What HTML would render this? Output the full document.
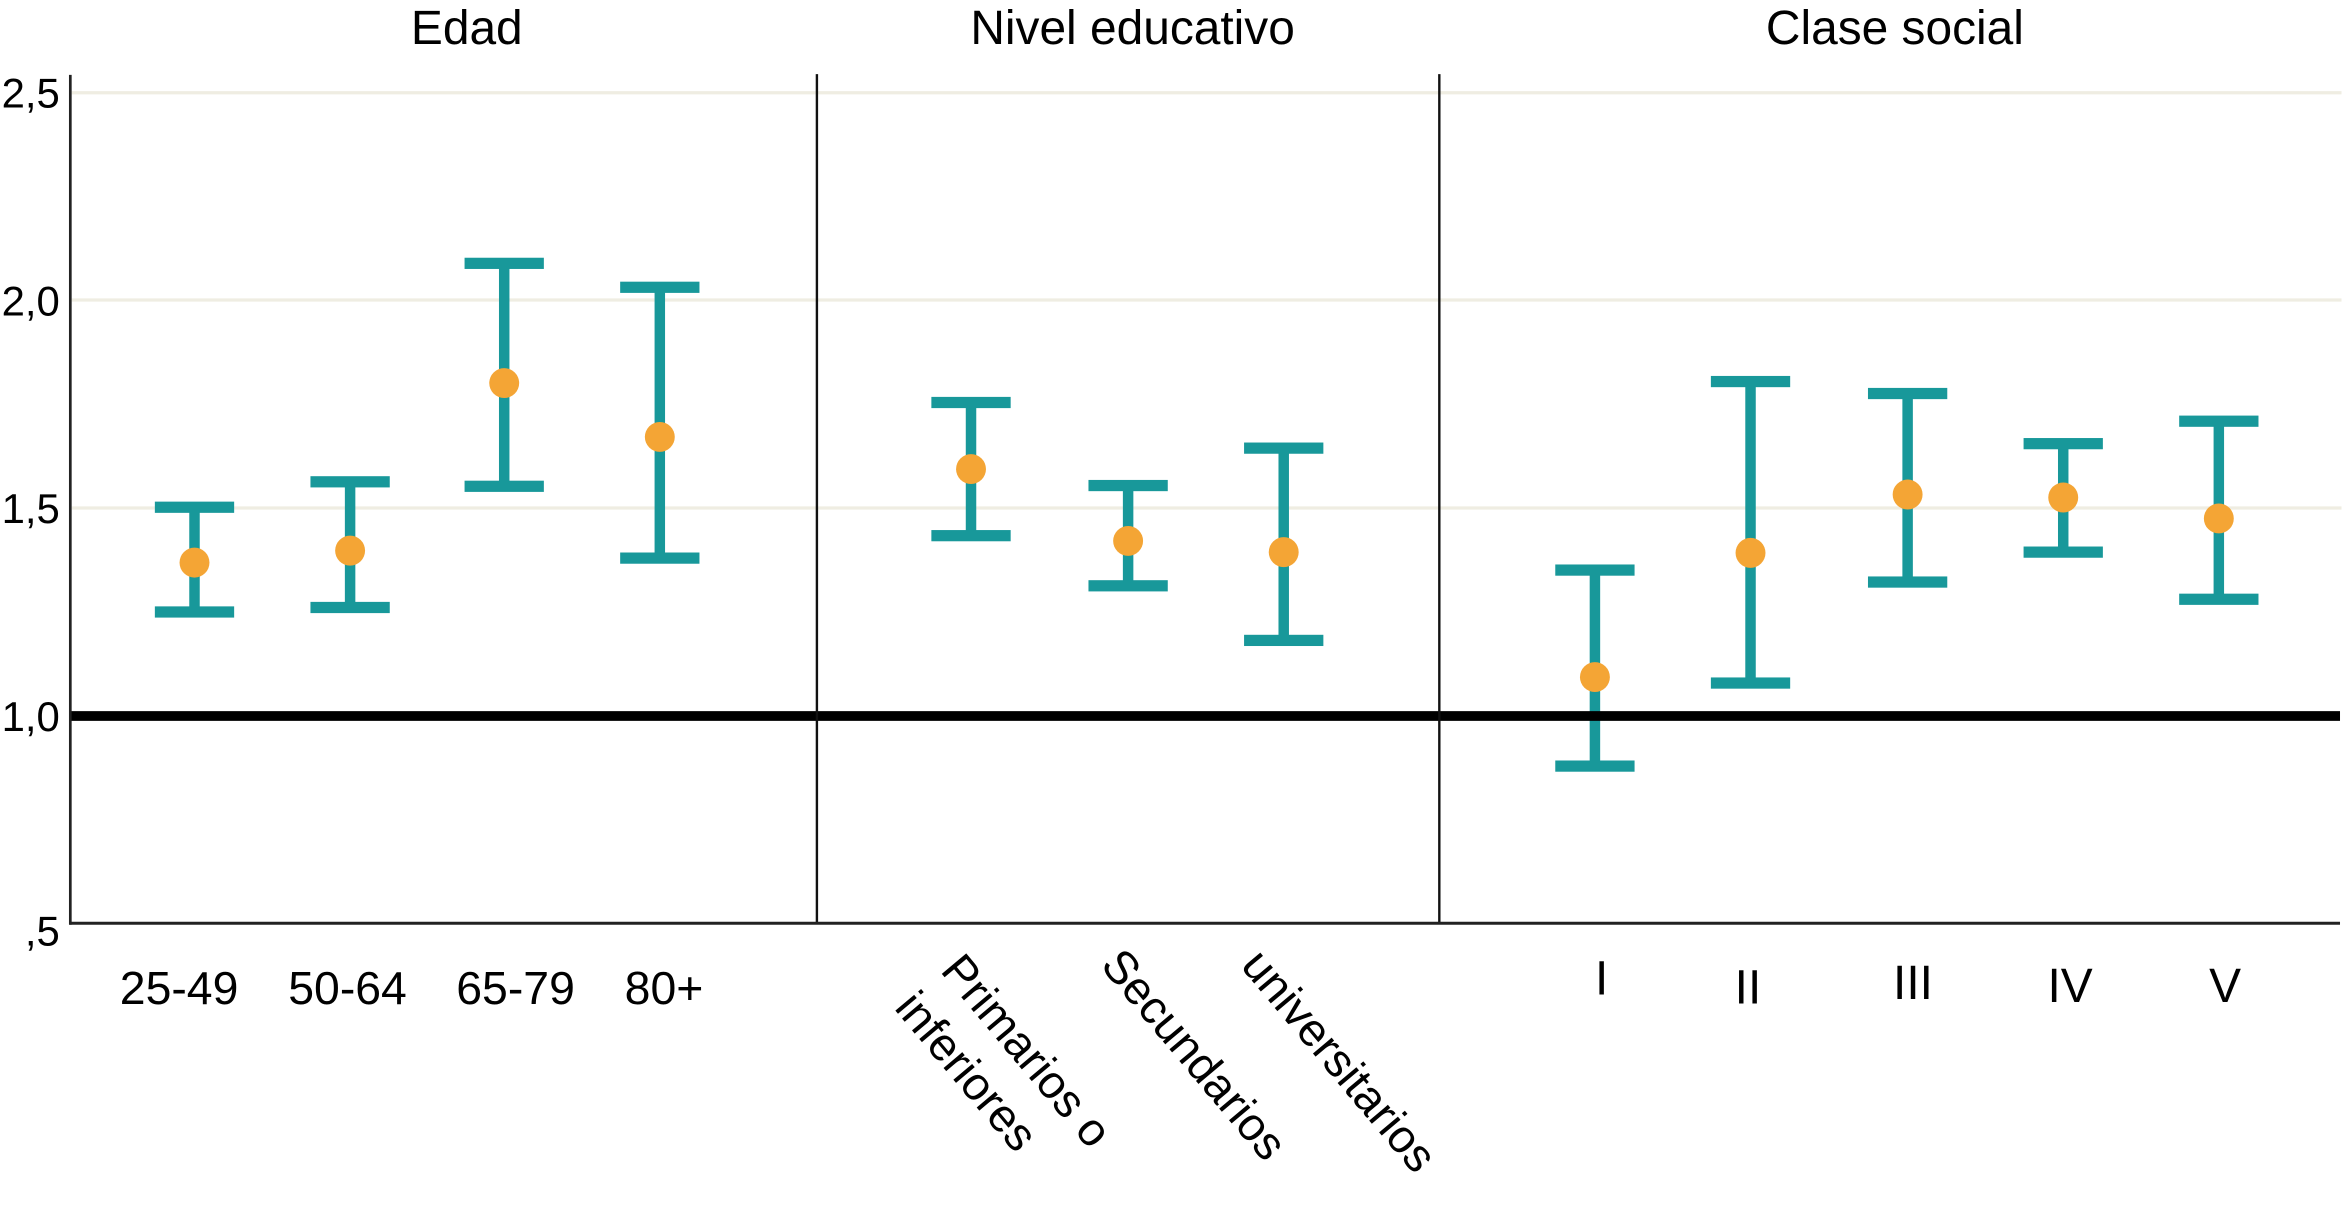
<!DOCTYPE html>
<html>
<head>
<meta charset="utf-8">
<style>
  html, body { margin: 0; padding: 0; background: #ffffff; }
  body { width: 2346px; height: 1209px; overflow: hidden; }
  svg { display: block; }
  text { font-family: "Liberation Sans", Arial, sans-serif; fill: #000; }
</style>
</head>
<body>
<svg width="2346" height="1209" viewBox="0 0 1568 808" preserveAspectRatio="none" xmlns="http://www.w3.org/2000/svg">
  <rect x="0" y="0" width="1568" height="808" fill="#ffffff"/>

  <!-- gridlines -->
  <g stroke="#efede2" stroke-width="2.2">
    <line x1="48" y1="62" x2="1565" y2="62"/>
    <line x1="48" y1="200.5" x2="1565" y2="200.5"/>
    <line x1="48" y1="339.5" x2="1565" y2="339.5"/>
  </g>

  <!-- titles -->
  <text x="312" y="29.5" font-size="32" text-anchor="middle">Edad</text>
  <text x="757" y="29.5" font-size="32" text-anchor="middle">Nivel educativo</text>
  <text x="1266.5" y="29.5" font-size="32" text-anchor="middle">Clase social</text>

  <!-- y tick labels -->
  <g font-size="28" text-anchor="end">
    <text x="40" y="72">2,5</text>
    <text x="40" y="211">2,0</text>
    <text x="40" y="349.5">1,5</text>
    <text x="40" y="488.5">1,0</text>
    <text x="40" y="632">,5</text>
  </g>

  <!-- error bars -->
  <g fill="#18989a">
    <!-- Edad -->
    <rect x="126.5" y="339" width="7" height="70"/>
    <rect x="103.5" y="335.25" width="53" height="7.5"/>
    <rect x="103.5" y="405.25" width="53" height="7.5"/>

    <rect x="230.5" y="322" width="7" height="84"/>
    <rect x="207.5" y="318.25" width="53" height="7.5"/>
    <rect x="207.5" y="402.25" width="53" height="7.5"/>

    <rect x="333.5" y="176" width="7" height="149"/>
    <rect x="310.5" y="172.25" width="53" height="7.5"/>
    <rect x="310.5" y="321.25" width="53" height="7.5"/>

    <rect x="437.5" y="192" width="7" height="181"/>
    <rect x="414.5" y="188.25" width="53" height="7.5"/>
    <rect x="414.5" y="369.25" width="53" height="7.5"/>

    <!-- Nivel educativo -->
    <rect x="645.5" y="269" width="7" height="89"/>
    <rect x="622.5" y="265.25" width="53" height="7.5"/>
    <rect x="622.5" y="354.25" width="53" height="7.5"/>

    <rect x="750.5" y="324.5" width="7" height="67"/>
    <rect x="727.5" y="320.75" width="53" height="7.5"/>
    <rect x="727.5" y="387.75" width="53" height="7.5"/>

    <rect x="854.5" y="299.5" width="7" height="128.5"/>
    <rect x="831.5" y="295.75" width="53" height="7.5"/>
    <rect x="831.5" y="424.25" width="53" height="7.5"/>

    <!-- Clase social -->
    <rect x="1062.5" y="381" width="7" height="131"/>
    <rect x="1039.5" y="377.25" width="53" height="7.5"/>
    <rect x="1039.5" y="508.25" width="53" height="7.5"/>

    <rect x="1166.5" y="255" width="7" height="201.5"/>
    <rect x="1143.5" y="251.25" width="53" height="7.5"/>
    <rect x="1143.5" y="452.75" width="53" height="7.5"/>

    <rect x="1271.5" y="263" width="7" height="126"/>
    <rect x="1248.5" y="259.25" width="53" height="7.5"/>
    <rect x="1248.5" y="385.25" width="53" height="7.5"/>

    <rect x="1375.5" y="296.5" width="7" height="72.5"/>
    <rect x="1352.5" y="292.75" width="53" height="7.5"/>
    <rect x="1352.5" y="365.25" width="53" height="7.5"/>

    <rect x="1479.5" y="281.5" width="7" height="119"/>
    <rect x="1456.5" y="277.75" width="53" height="7.5"/>
    <rect x="1456.5" y="396.75" width="53" height="7.5"/>
  </g>

  <!-- means -->
  <g fill="#f4a535">
    <circle cx="130" cy="376" r="10"/>
    <circle cx="234" cy="368" r="10"/>
    <circle cx="337" cy="256" r="10"/>
    <circle cx="441" cy="292" r="10"/>
    <circle cx="649" cy="313.5" r="10"/>
    <circle cx="754" cy="361.5" r="10"/>
    <circle cx="858" cy="369" r="10"/>
    <circle cx="1066" cy="452.5" r="10"/>
    <circle cx="1170" cy="369.5" r="10"/>
    <circle cx="1275" cy="330.5" r="10"/>
    <circle cx="1379" cy="332.5" r="10"/>
    <circle cx="1483" cy="346.5" r="10"/>
  </g>

  <!-- reference line at 1,0 -->
  <line x1="47" y1="478.5" x2="1564" y2="478.5" stroke="#000" stroke-width="6.5"/>

  <!-- separators -->
  <line x1="546" y1="49.5" x2="546" y2="617" stroke="#111" stroke-width="1.6"/>
  <line x1="962" y1="49.5" x2="962" y2="617" stroke="#111" stroke-width="1.6"/>

  <!-- axes -->
  <line x1="47" y1="50" x2="47" y2="618" stroke="#222" stroke-width="1.8"/>
  <line x1="46.5" y1="617" x2="1564" y2="617" stroke="#222" stroke-width="2"/>

  <!-- x labels: Edad -->
  <g font-size="31" text-anchor="middle">
    <text x="119.7" y="671">25-49</text>
    <text x="232.3" y="671">50-64</text>
    <text x="344.6" y="671">65-79</text>
    <text x="443.8" y="671">80+</text>
  </g>

  <!-- x labels: Nivel educativo (rotated) -->
  <g font-size="31" text-anchor="middle">
    <text transform="translate(686.5,702) rotate(50)" dy="0.35em">Primarios o</text>
    <text transform="translate(646.4,715.7) rotate(50)" dy="0.35em">inferiores</text>
    <text transform="translate(798.5,704.5) rotate(50)" dy="0.35em">Secundarios</text>
    <text transform="translate(895.5,708.6) rotate(50)" dy="0.35em">universitarios</text>
  </g>

  <!-- x labels: Clase social -->
  <g font-size="32" text-anchor="middle">
    <text x="1070.5" y="664.6">I</text>
    <text x="1168.3" y="670.6">II</text>
    <text x="1278.6" y="667.7">III</text>
    <text x="1383.6" y="669.5">IV</text>
    <text x="1487.2" y="669.5">V</text>
  </g>
</svg>
</body>
</html>
